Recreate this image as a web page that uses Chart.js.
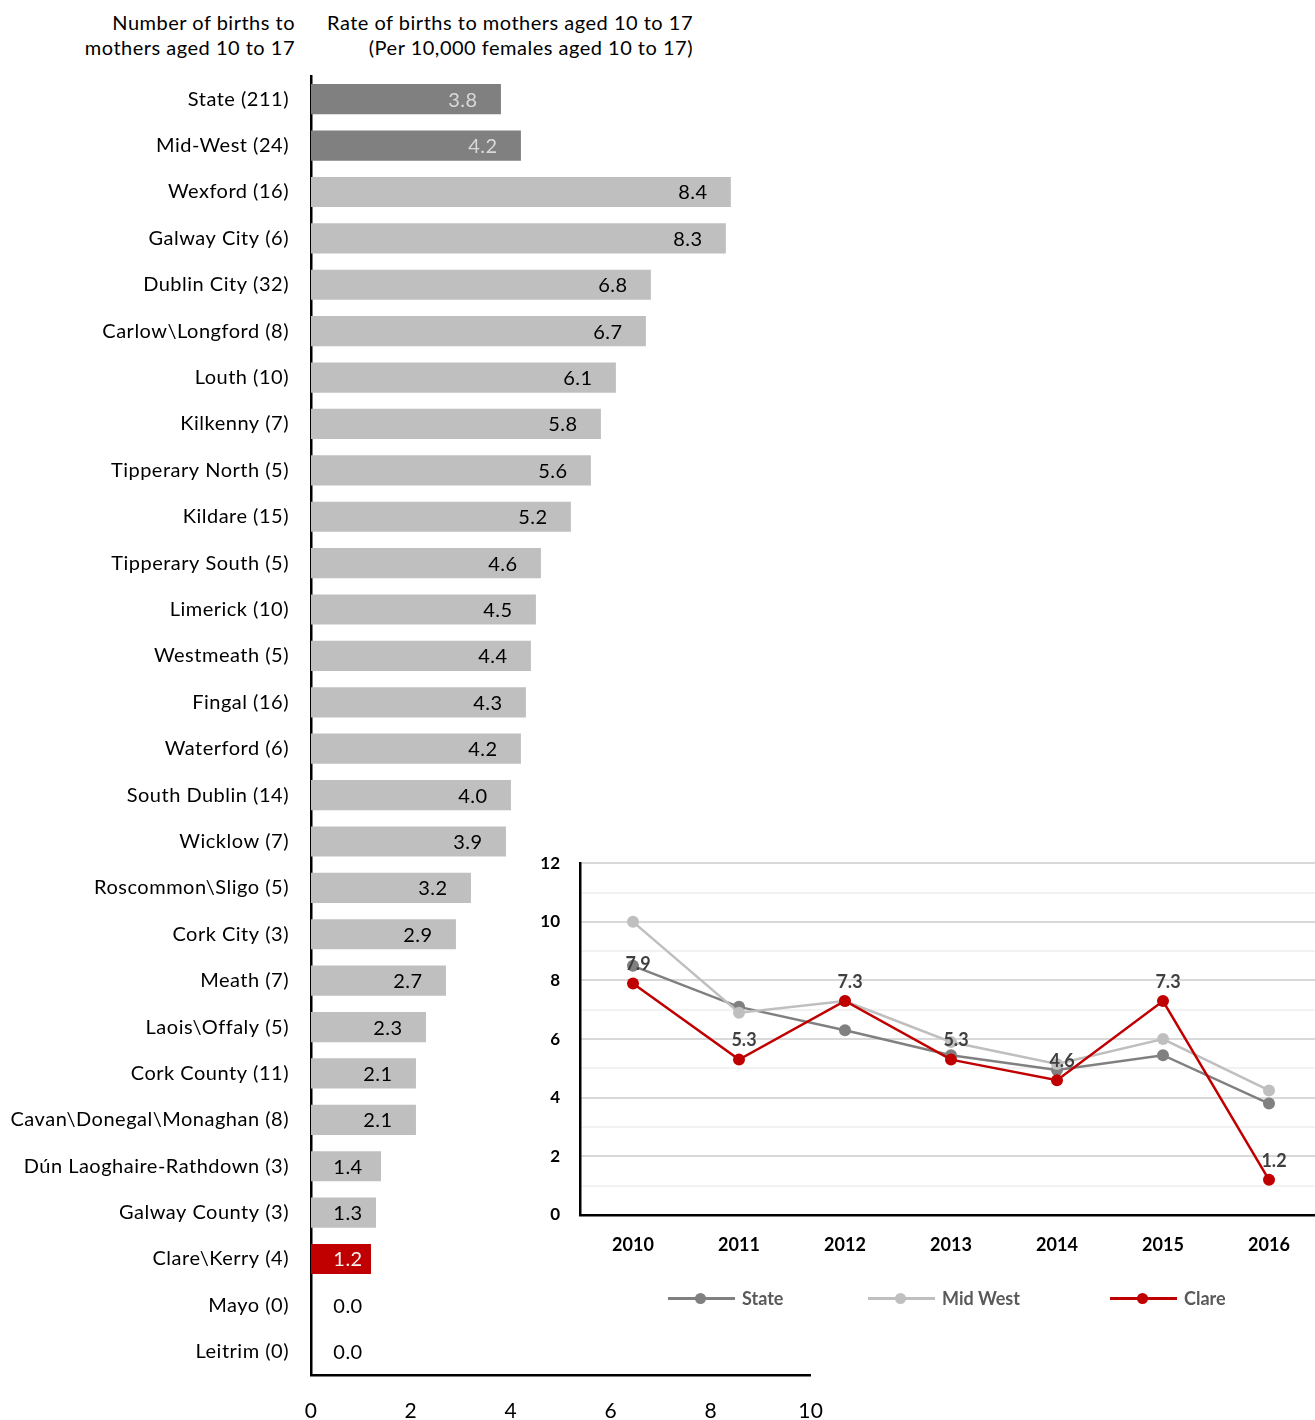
<!DOCTYPE html>
<html>
<head>
<meta charset="utf-8">
<script src="https://cdn.jsdelivr.net/npm/chart.js@4"></script>
<style>
  body { margin: 0; background: #fff; font-family: Lato, "Open Sans", sans-serif; overflow: hidden; }
  #wrap { position: relative; width: 1315px; height: 1420px; overflow: hidden; }
  .hdr { position: absolute; font-size: 20px; letter-spacing: 0.5px; line-height: 25px; color: #000; text-align: right; white-space: nowrap; }
  #barBox { position: absolute; left: 0; top: 0; width: 839px; height: 1420px; }
  #lineBox { position: absolute; left: 520px; top: 833px; width: 808px; height: 432px; }
  .leg { position: absolute; top: 1287px; height: 22px; font-size: 18px; font-weight: bold; color: #595959; }
  .leg .ln { position: absolute; left: 0; top: 10px; width: 67px; height: 3px; }
  .leg .dot { position: absolute; left: 27px; top: 6px; width: 11px; height: 11px; border-radius: 50%; }
  .leg .tx { position: absolute; left: 74px; top: 0; white-space: nowrap; }
</style>
</head>
<body>
<div id="wrap">
  <div class="hdr" style="left:0; top:10px; width:295px;">Number of births to<br>mothers aged 10 to 17</div>
  <div class="hdr" style="left:300px; top:10px; width:393px;">Rate of births to mothers aged 10 to 17<br>(Per 10,000 females aged 10 to 17)</div>
  <div id="barBox"><canvas id="barChart"></canvas></div>
  <div id="lineBox"><canvas id="lineChart"></canvas></div>
  <div id="legend"></div>
</div>
<script>
const areas = ['State (211)', 'Mid-West (24)', 'Wexford (16)', 'Galway City (6)', 'Dublin City (32)',
  'Carlow\\Longford (8)', 'Louth (10)', 'Kilkenny (7)', 'Tipperary North (5)', 'Kildare (15)',
  'Tipperary South (5)', 'Limerick (10)', 'Westmeath (5)', 'Fingal (16)', 'Waterford (6)',
  'South Dublin (14)', 'Wicklow (7)', 'Roscommon\\Sligo (5)', 'Cork City (3)', 'Meath (7)',
  'Laois\\Offaly (5)', 'Cork County (11)', 'Cavan\\Donegal\\Monaghan (8)', 'Dún Laoghaire-Rathdown (3)',
  'Galway County (3)', 'Clare\\Kerry (4)', 'Mayo (0)', 'Leitrim (0)'];
const rates = [3.8, 4.2, 8.4, 8.3, 6.8, 6.7, 6.1, 5.8, 5.6, 5.2, 4.6, 4.5, 4.4, 4.3, 4.2,
  4.0, 3.9, 3.2, 2.9, 2.7, 2.3, 2.1, 2.1, 1.4, 1.3, 1.2, 0.0, 0.0];

const years = ['2010', '2011', '2012', '2013', '2014', '2015', '2016'];
const stateTrend = [8.5, 7.1, 6.3, 5.45, 4.95, 5.45, 3.8];
const midWestTrend = [10.0, 6.9, 7.3, 5.9, 5.15, 6.0, 4.25];
const clareTrend = [7.9, 5.3, 7.3, 5.3, 4.6, 7.3, 1.2];

const xTicks = [0, 2, 4, 6, 8, 10];

const FONT = 'Lato, "Open Sans", sans-serif';

function barColor(i) {
  if (i < 2) return '#808080';
  if (areas[i].startsWith('Clare')) return '#c00000';
  return '#bfbfbf';
}
function labelColor(i) {
  if (i < 2) return '#d9d9d9';
  if (areas[i].startsWith('Clare')) return '#f2f2f2';
  return '#000000';
}

const spacing = {
  id: 'spacing',
  beforeDraw(chart) { chart.ctx.letterSpacing = '0.5px'; }
};

const barLabels = {
  id: 'barLabels',
  afterDatasetsDraw(chart) {
    const ctx = chart.ctx;
    const meta = chart.getDatasetMeta(0);
    const x0 = chart.scales.x.getPixelForValue(0);
    ctx.save();
    ctx.font = '20px ' + FONT;
    ctx.textAlign = 'center';
    ctx.textBaseline = 'middle';
    meta.data.forEach((bar, i) => {
      const cx = Math.max(bar.x - 38, x0 + 37);
      ctx.fillStyle = labelColor(i);
      ctx.fillText(rates[i].toFixed(1), cx, bar.y + 1);
    });
    ctx.restore();
  }
};

new Chart(document.getElementById('barChart'), {
  type: 'bar',
  data: {
    labels: areas,
    datasets: [{
      data: rates,
      backgroundColor: rates.map((v, i) => barColor(i)),
      barPercentage: 0.65,
      categoryPercentage: 1
    }]
  },
  plugins: [spacing, barLabels],
  options: {
    indexAxis: 'y',
    responsive: true,
    maintainAspectRatio: false,
    animation: false,
    layout: { padding: { top: 76, right: 11, bottom: 0, left: 0 } },
    plugins: { legend: { display: false }, tooltip: { enabled: false } },
    scales: {
      x: {
        min: 0, max: 10,
        afterBuildTicks(scale) { scale.ticks = xTicks.map(v => ({ value: v })); },
        afterFit(scale) { scale.height = 45; },
        grid: { display: false },
        border: { display: true, color: '#000', width: 2.5 },
        ticks: { color: '#000', padding: 16, font: { family: FONT, size: 21 } }
      },
      y: {
        afterFit(scale) { scale.width = 311; },
        grid: { display: false },
        border: { display: true, color: '#000', width: 2.5 },
        ticks: { color: '#000', padding: 14, autoSkip: false, font: { family: FONT, size: 20 } }
      }
    }
  }
});

const clareLabels = {
  id: 'clareLabels',
  afterDatasetsDraw(chart) {
    const ctx = chart.ctx;
    const meta = chart.getDatasetMeta(2);
    ctx.save();
    ctx.font = 'bold 18px ' + FONT;
    ctx.fillStyle = '#404040';
    ctx.textAlign = 'center';
    ctx.textBaseline = 'middle';
    meta.data.forEach((pt, i) => {
      ctx.fillText(clareTrend[i].toFixed(1), pt.x + 5, pt.y - 19);
    });
    ctx.restore();
  }
};

const seriesColors = ['#808080', '#bfbfbf', '#c00000'];
const seriesNames = ['State', 'Mid West', 'Clare'];
const seriesData = [stateTrend, midWestTrend, clareTrend];

new Chart(document.getElementById('lineChart'), {
  type: 'line',
  data: {
    labels: years,
    datasets: seriesData.map((d, k) => ({
      label: seriesNames[k],
      data: d,
      borderColor: seriesColors[k],
      backgroundColor: seriesColors[k],
      borderWidth: 2.5,
      pointRadius: 6,
      pointBorderWidth: 0,
      pointStyle: 'circle',
      tension: 0,
      order: 3 - k
    }))
  },
  plugins: [clareLabels],
  options: {
    responsive: true,
    maintainAspectRatio: false,
    animation: false,
    layout: { padding: { top: 8, right: 0, bottom: 0, left: 0 } },
    plugins: { tooltip: { enabled: false }, legend: { display: false } },
    scales: {
      x: {
        offset: true,
        afterFit(scale) { scale.height = 50; },
        grid: { display: false },
        border: { display: true, color: '#000', width: 2.5 },
        ticks: { color: '#000', padding: 11, font: { family: FONT, size: 18, weight: 'bold' } }
      },
      y: {
        min: 0, max: 12,
        afterFit(scale) { scale.width = 60; },
        grid: {
          drawTicks: false,
          lineWidth: 2,
          color: ctx => (ctx.tick && ctx.tick.value % 2 === 0) ? '#d9d9d9' : '#f2f2f2'
        },
        border: { display: true, color: '#000', width: 2.5 },
        ticks: {
          stepSize: 1,
          color: '#000',
          padding: 20,
          font: { family: FONT, size: 17, weight: 'bold' },
          callback: v => (v % 2 === 0 ? v : '')
        }
      }
    }
  }
});

// legend for the inset: line with a dot, then the series name
const legendLeft = [668, 868, 1110];
document.getElementById('legend').innerHTML = seriesNames.map((n, k) =>
  '<div class="leg" style="left:' + legendLeft[k] + 'px">' +
  '<span class="ln" style="background:' + seriesColors[k] + '"></span>' +
  '<span class="dot" style="background:' + seriesColors[k] + '"></span>' +
  '<span class="tx">' + n + '</span></div>').join('');
</script>
</body>
</html>
